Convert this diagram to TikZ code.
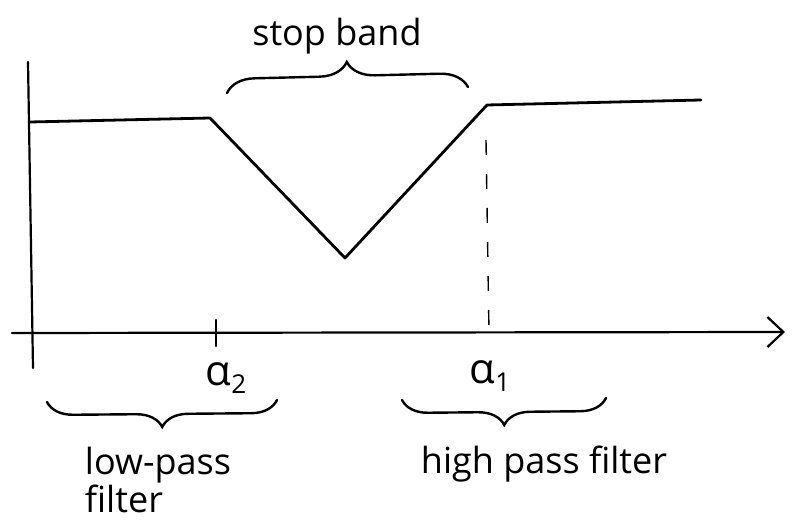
\documentclass[tikz,border=0pt]{standalone}
\usepackage{fontspec}
\setmainfont{Open Sans}
\usetikzlibrary{decorations.pathreplacing,arrows.meta}
\newcommand{\lowsub}[1]{{\fontsize{26}{26}\selectfont\raisebox{-8pt}{#1}}}
\begin{document}
\begin{tikzpicture}[x=1pt,y=-1pt,
  curve/.style={line width=2.8pt,line join=round,line cap=round},
  axis/.style={line width=2.2pt,line cap=round},
  guide/.style={line width=1.4pt,dash pattern=on 15pt off 19pt},
  lbl/.style={font=\fontsize{36}{34}\selectfont,inner sep=0pt},
  grk/.style={font=\fontsize{42}{42}\selectfont,inner sep=0pt},
  brc/.style={line width=2.4pt,line cap=round,decorate,decoration={brace,amplitude=#1}}]
\useasboundingbox (0,0) rectangle (795,521);
% response curve
\coordinate (p0) at (30,122);
\coordinate (p1) at (210,118);
\coordinate (p2) at (345,258);
\coordinate (p3) at (487,105);
\coordinate (p4) at (701,100);
\draw[curve] (p0) -- (p1) -- (p2) -- (p3) -- (p4);
% axes
\coordinate (yt) at (28,62);
\coordinate (yb) at (33,368);
\coordinate (xl) at (12,333);
\coordinate (xr) at (785,332);
\draw[axis] (yt) -- (yb);
\draw[axis,-{Straight Barb[length=16pt,width=30pt,line width=2.2pt]}] (xl) -- (xr);
% tick and dashed guide
\coordinate (t1) at (216,320);
\coordinate (t2) at (216,346);
\draw[axis] (t1) -- (t2);
\coordinate (d1) at (486,140);
\coordinate (d2) at (489,333);
\draw[guide] (d1) -- (d2);
% braces
\coordinate (sb1) at (227,93);
\coordinate (sb2) at (468,87);
\draw[brc=28pt] (sb1) -- (sb2);
\coordinate (lb1) at (277,400);
\coordinate (lb2) at (47,402);
\draw[brc=26pt] (lb1) -- (lb2);
\coordinate (hb1) at (606,398);
\coordinate (hb2) at (402,400);
\draw[brc=26pt] (hb1) -- (hb2);
% labels
\node[lbl] (stop) at (337,36) {stop band};
\node[grk] (a2) at (226,378) {α\lowsub{2}};
\node[grk] (a1) at (490,376) {α\lowsub{1}};
\node[lbl,align=left] (lp) at (158,480) {low-pass\\filter};
\node[lbl] (hp) at (544,464) {high pass filter};
\end{tikzpicture}
\end{document}
